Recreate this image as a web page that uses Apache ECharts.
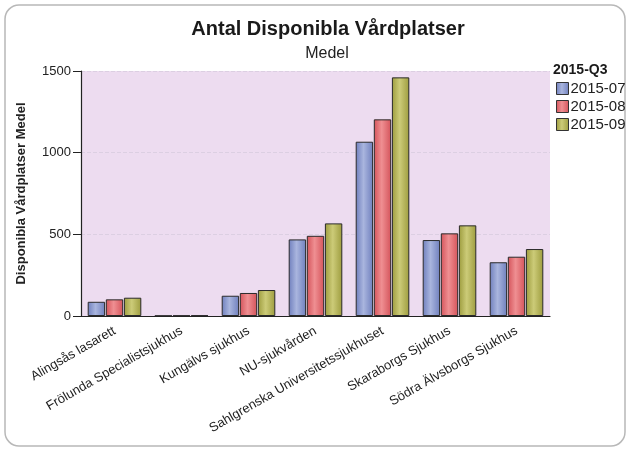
<!DOCTYPE html>
<html>
<head>
<meta charset="utf-8">
<script src="https://cdn.jsdelivr.net/npm/echarts@6/dist/echarts.min.js"></script>
<style>html,body{margin:0;padding:0;background:#fff;}#c{width:629px;height:452px;}</style>
</head>
<body>
<div id="c"></div>
<script>
const categories = ["Alingsås lasarett","Frölunda Specialistsjukhus","Kungälvs sjukhus","NU-sjukvården","Sahlgrenska Universitetssjukhuset","Skaraborgs Sjukhus","Södra Älvsborgs Sjukhus"];
const seriesNames = ["2015-07","2015-08","2015-09"];
const s201507 = [87, 2, 124, 469, 1067, 465, 329];
const s201508 = [102, 3, 141, 491, 1204, 506, 363];
const s201509 = [112, 4, 159, 567, 1461, 555, 410];
const yTicks = [0, 500, 1000, 1500];

const font = '"Liberation Sans", Arial, sans-serif';
function grad(edge, mid){
  return new echarts.graphic.LinearGradient(0,0,1,0,[
    {offset:0,color:edge},{offset:0.45,color:mid},{offset:1,color:edge}
  ]);
}
const colors = [
  grad('#6f7fbd','#a9b5de'),
  grad('#d4535a','#ef8f92'),
  grad('#9d9c3e','#cccb78')
];
const legendColors = ['#8391cb','#e06a70','#b3b257'];
const data = [s201507, s201508, s201509];

const chart = echarts.init(document.getElementById('c'));
chart.setOption({
  backgroundColor: '#fff',
  animation: false,
  color: legendColors,
  title: [{
    text: 'Antal Disponibla Vårdplatser',
    left: 323, top: 14, textAlign: 'center',
    textStyle: {fontFamily: font, fontSize: 20, fontWeight: 'bold', color: '#1a1a1a'}
  }, {
    text: 'Medel',
    left: 322, top: 41, textAlign: 'center',
    textStyle: {fontFamily: font, fontSize: 16, fontWeight: 'normal', color: '#222'}
  }],
  legend: {
    orient: 'vertical', left: 556, top: 81, padding: 0,
    itemWidth: 12, itemHeight: 12, itemGap: 3,
    icon: 'rect',
    data: seriesNames,
    textStyle: {fontFamily: font, fontSize: 15, lineHeight: 15, color: '#222', padding: [0,0,0,-3]},
    itemStyle: {borderColor: '#333', borderWidth: 1}
  },
  grid: {left: 81, right: 79, top: 71, bottom: 136, show: true, backgroundColor: '#eddcf0', borderWidth: 0},
  xAxis: {
    type: 'category', data: categories,
    axisLine: {lineStyle: {color: '#222', width: 1.2}},
    axisTick: {alignWithLabel: true, length: 6, lineStyle: {color: '#222'}},
    axisLabel: {rotate: 30, fontFamily: font, fontSize: 13, color: '#222', margin: 14, interval: 0}
  },
  yAxis: {
    type: 'value', min: 0, max: 1500, interval: 500,
    name: 'Disponibla Vårdplatser Medel',
    nameLocation: 'middle', nameGap: 53, nameRotate: 90,
    nameTextStyle: {fontFamily: font, fontSize: 13, fontWeight: 'bold', color: '#222'},
    axisLine: {show: true, lineStyle: {color: '#222', width: 1.2}},
    axisTick: {show: true, length: 8, lineStyle: {color: '#222'}},
    axisLabel: {fontFamily: font, fontSize: 13, color: '#222', margin: 10, formatter: v => String(v)},
    splitLine: {show: true, lineStyle: {color: '#dccfe2', type: 'dashed'}}
  },
  series: data.map((d, i) => ({
    name: seriesNames[i], type: 'bar', data: d,
    barGap: '4%', barCategoryGap: '20%',
    itemStyle: {color: colors[i], borderColor: '#2a2a2a', borderWidth: 1}
  })),
  graphic: [
    {type: 'rect', silent: true, z: -1, shape: {x: 5, y: 5, width: 620, height: 441, r: 14}, style: {fill: 'none', stroke: '#b8b8b8', lineWidth: 1.5}},
    {type: 'text', left: 553, top: 63, style: {text: '2015-Q3', fontFamily: font, fontSize: 14, fontWeight: 'bold', fill: '#1a1a1a'}}
  ]
});
</script>
</body>
</html>
